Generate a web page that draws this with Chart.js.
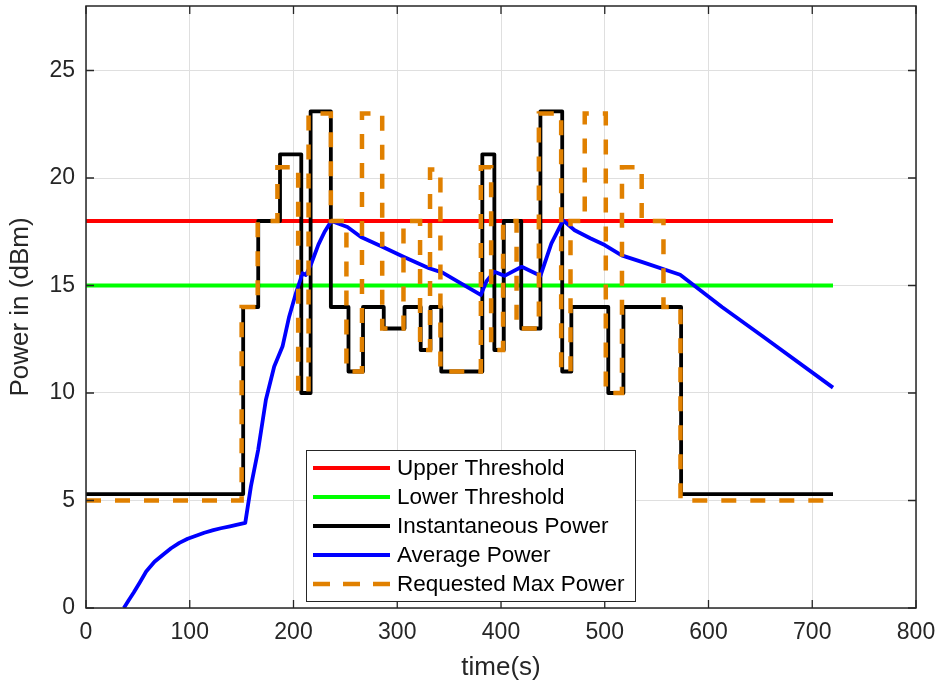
<!DOCTYPE html>
<html>
<head>
<meta charset="utf-8">
<script src="https://cdn.jsdelivr.net/npm/chart.js@4.4.1/dist/chart.umd.min.js"></script>
<style>
    html, body { margin: 0; padding: 0; background: #fff; }
    #contenedor { width: 938px; height: 683px; }
</style>
</head>
<body>
<div id="contenedor"><canvas id="graficoPotencia"></canvas></div>
<script>
// Umbrales y fin de la simulacion
var upperThreshold = 18;
var lowerThreshold = 15;
var endTime = 720;

// Potencia instantanea: instante del cambio y nuevo nivel (dBm)
var instTime  = [0, 151.5, 166, 187, 207.5, 216.5, 236, 253, 267, 287, 307, 322.6, 332, 342.4, 382, 393.6, 402.7, 419.5, 438, 459, 467.8, 503.4, 518, 573.6, 720];
var instPower = [5.3, 14, 18, 21.1, 10, 23.1, 14, 11, 14, 13, 14, 12, 14, 11, 21.1, 12, 18, 13, 23.1, 11, 14, 10, 14, 5.3, 5.3];

// Potencia maxima solicitada: instante del cambio y nuevo nivel (dBm)
var reqTime  = [0, 150, 165.5, 184.5, 204.5, 214.5, 236, 251, 266, 285.5, 306, 322, 331.6, 341.6, 380.6, 390.5, 402, 415, 436.5, 458, 467, 480.7, 501, 516.6, 535.6, 556.6, 573, 720];
var reqPower = [5, 14, 18, 20.5, 10, 23, 18, 11, 23, 13, 18, 12, 20.4, 11, 20.5, 12, 18, 13, 23, 11, 18, 23, 10, 20.5, 18, 14, 5, 5];

// Potencia promedio
var avgTime  = [36.5, 41, 46, 52, 58, 66, 74.5, 82, 90, 98, 106.7, 114, 122.7, 130, 138.8, 146, 153.5, 159, 166, 173.4, 181.4, 189.4, 195.8, 202.3, 208.7, 212, 217, 224, 230, 236.5, 252, 265, 285.6, 306.5, 330.7, 343.7, 361.4, 380.5, 386, 393.6, 403.3, 420, 438, 448.5, 459.8, 471, 486, 500, 516.3, 535.6, 572.7, 613, 651.8, 720];
var avgPower = [0, 0.35, 0.72, 1.2, 1.7, 2.15, 2.49, 2.78, 3.03, 3.22, 3.37, 3.5, 3.62, 3.71, 3.8, 3.88, 3.96, 5.67, 7.37, 9.69, 11.23, 12.16, 13.55, 14.64, 15.57, 15.49, 16.0, 16.9, 17.5, 18.0, 17.72, 17.26, 16.8, 16.33, 15.8, 15.6, 15.1, 14.56, 15.2, 15.64, 15.45, 15.87, 15.45, 16.95, 18.03, 17.57, 17.2, 16.88, 16.4, 16.1, 15.5, 14.0, 12.65, 10.25];

// Ejes
var xTicks = [0, 100, 200, 300, 400, 500, 600, 700, 800];
var yTicks = [0, 5, 10, 15, 20, 25];
var xMax = 800;
var yMax = 28;

var seriesNames = ['Upper Threshold', 'Lower Threshold', 'Instantaneous Power', 'Average Power', 'Requested Max Power'];

var fuente = "'Liberation Sans', Arial, Helvetica, sans-serif";
var gris = '#262626';

function puntos(xs, ys) {
    var res = [];
    for (var i = 0; i < xs.length; i++) {
        res.push({ x: xs[i], y: ys[i] });
    }
    return res;
}

// Caja del eje con marcas hacia adentro (estilo MATLAB)
var cajaEjes = {
    id: 'cajaEjes',
    afterDatasetsDraw: function (chart) {
        var ctx = chart.ctx;
        var a = chart.chartArea;
        var sx = chart.scales.x, sy = chart.scales.y;
        var largo = 8;
        ctx.save();
        ctx.strokeStyle = gris;
        ctx.lineWidth = 1.3;
        ctx.beginPath();
        xTicks.forEach(function (v) {
            var p = sx.getPixelForValue(v);
            ctx.moveTo(p, a.bottom); ctx.lineTo(p, a.bottom - largo);
            ctx.moveTo(p, a.top); ctx.lineTo(p, a.top + largo);
        });
        yTicks.forEach(function (v) {
            var p = sy.getPixelForValue(v);
            ctx.moveTo(a.left, p); ctx.lineTo(a.left + largo, p);
            ctx.moveTo(a.right, p); ctx.lineTo(a.right - largo, p);
        });
        ctx.stroke();
        ctx.lineWidth = 1.5;
        ctx.strokeRect(a.left, a.top, a.right - a.left, a.bottom - a.top);
        ctx.restore();
    }
};

// Leyenda dentro del area del grafico
var leyendaCaja = {
    id: 'leyendaCaja',
    afterDraw: function (chart) {
        var ctx = chart.ctx;
        var a = chart.chartArea;
        var x0 = a.left + 220, y0 = a.top + 444, w = 329, h = 151;
        ctx.save();
        ctx.fillStyle = '#fff';
        ctx.fillRect(x0, y0, w, h);
        ctx.strokeStyle = gris;
        ctx.lineWidth = 1;
        ctx.strokeRect(x0 + 0.5, y0 + 0.5, w, h);
        ctx.font = '22.5px ' + fuente;
        ctx.textBaseline = 'middle';
        ctx.textAlign = 'left';
        chart.data.datasets.forEach(function (ds, i) {
            var yy = y0 + 18 + i * 29;
            ctx.beginPath();
            ctx.strokeStyle = ds.borderColor;
            ctx.lineWidth = ds.borderWidth;
            ctx.setLineDash(ds.borderDash ? [17, 13] : []);
            ctx.moveTo(x0 + 7, yy);
            ctx.lineTo(x0 + 84, yy);
            ctx.stroke();
            ctx.setLineDash([]);
            ctx.fillStyle = '#000';
            ctx.fillText(ds.label, x0 + 91, yy + 1);
        });
        ctx.restore();
    }
};

var ctx = document.getElementById('graficoPotencia').getContext('2d');
var grafico = new Chart(ctx, {
    type: 'line',
    data: {
        datasets: [{
            label: seriesNames[0],
            data: puntos([0, endTime], [upperThreshold, upperThreshold]),
            borderColor: '#ff0000',
            borderWidth: 4,
            order: 5
        }, {
            label: seriesNames[1],
            data: puntos([0, endTime], [lowerThreshold, lowerThreshold]),
            borderColor: '#00ff00',
            borderWidth: 4,
            order: 4
        }, {
            label: seriesNames[2],
            data: puntos(instTime, instPower),
            borderColor: '#000000',
            borderWidth: 3.8,
            stepped: true,
            borderJoinStyle: 'round',
            order: 3
        }, {
            label: seriesNames[3],
            data: puntos(avgTime, avgPower),
            borderColor: '#0000ff',
            borderWidth: 3.8,
            borderJoinStyle: 'round',
            order: 2
        }, {
            label: seriesNames[4],
            data: puntos(reqTime, reqPower),
            borderColor: '#e08000',
            borderWidth: 4.5,
            borderDash: [15, 14],
            stepped: true,
            order: 1
        }]
    },
    options: {
        responsive: true,
        maintainAspectRatio: false,
        animation: false,
        elements: {
            point: { radius: 0 },
            line: { tension: 0, fill: false }
        },
        layout: {
            padding: { left: 0, top: 6, right: 22, bottom: 0 }
        },
        plugins: {
            legend: { display: false },
            tooltip: { enabled: false }
        },
        scales: {
            x: {
                type: 'linear',
                min: 0,
                max: xMax,
                afterBuildTicks: function (scale) {
                    scale.ticks = xTicks.map(function (v) { return { value: v }; });
                },
                afterFit: function (scale) {
                    scale.height = 75;
                    scale.paddingLeft = 0;
                    scale.paddingRight = 0;
                },
                border: { display: false },
                grid: { color: '#dfdfdf', lineWidth: 1, drawTicks: false },
                ticks: {
                    padding: 11,
                    maxRotation: 0,
                    color: gris,
                    font: { family: fuente, size: 23 }
                },
                title: {
                    display: true,
                    text: 'time(s)',
                    color: gris,
                    padding: { top: 0, bottom: 0 },
                    font: { family: fuente, size: 26 }
                }
            },
            y: {
                type: 'linear',
                min: 0,
                max: yMax,
                afterBuildTicks: function (scale) {
                    scale.ticks = yTicks.map(function (v) { return { value: v }; });
                },
                afterFit: function (scale) {
                    scale.width = 86;
                    scale.paddingTop = 0;
                    scale.paddingBottom = 0;
                },
                border: { display: false },
                grid: { color: '#dfdfdf', lineWidth: 1, drawTicks: false },
                ticks: {
                    padding: 11,
                    color: gris,
                    font: { family: fuente, size: 23 }
                },
                title: {
                    display: true,
                    text: 'Power in (dBm)',
                    color: gris,
                    padding: { top: 5, bottom: 0 },
                    font: { family: fuente, size: 26 }
                }
            }
        }
    },
    plugins: [cajaEjes, leyendaCaja]
});
</script>
</body>
</html>
